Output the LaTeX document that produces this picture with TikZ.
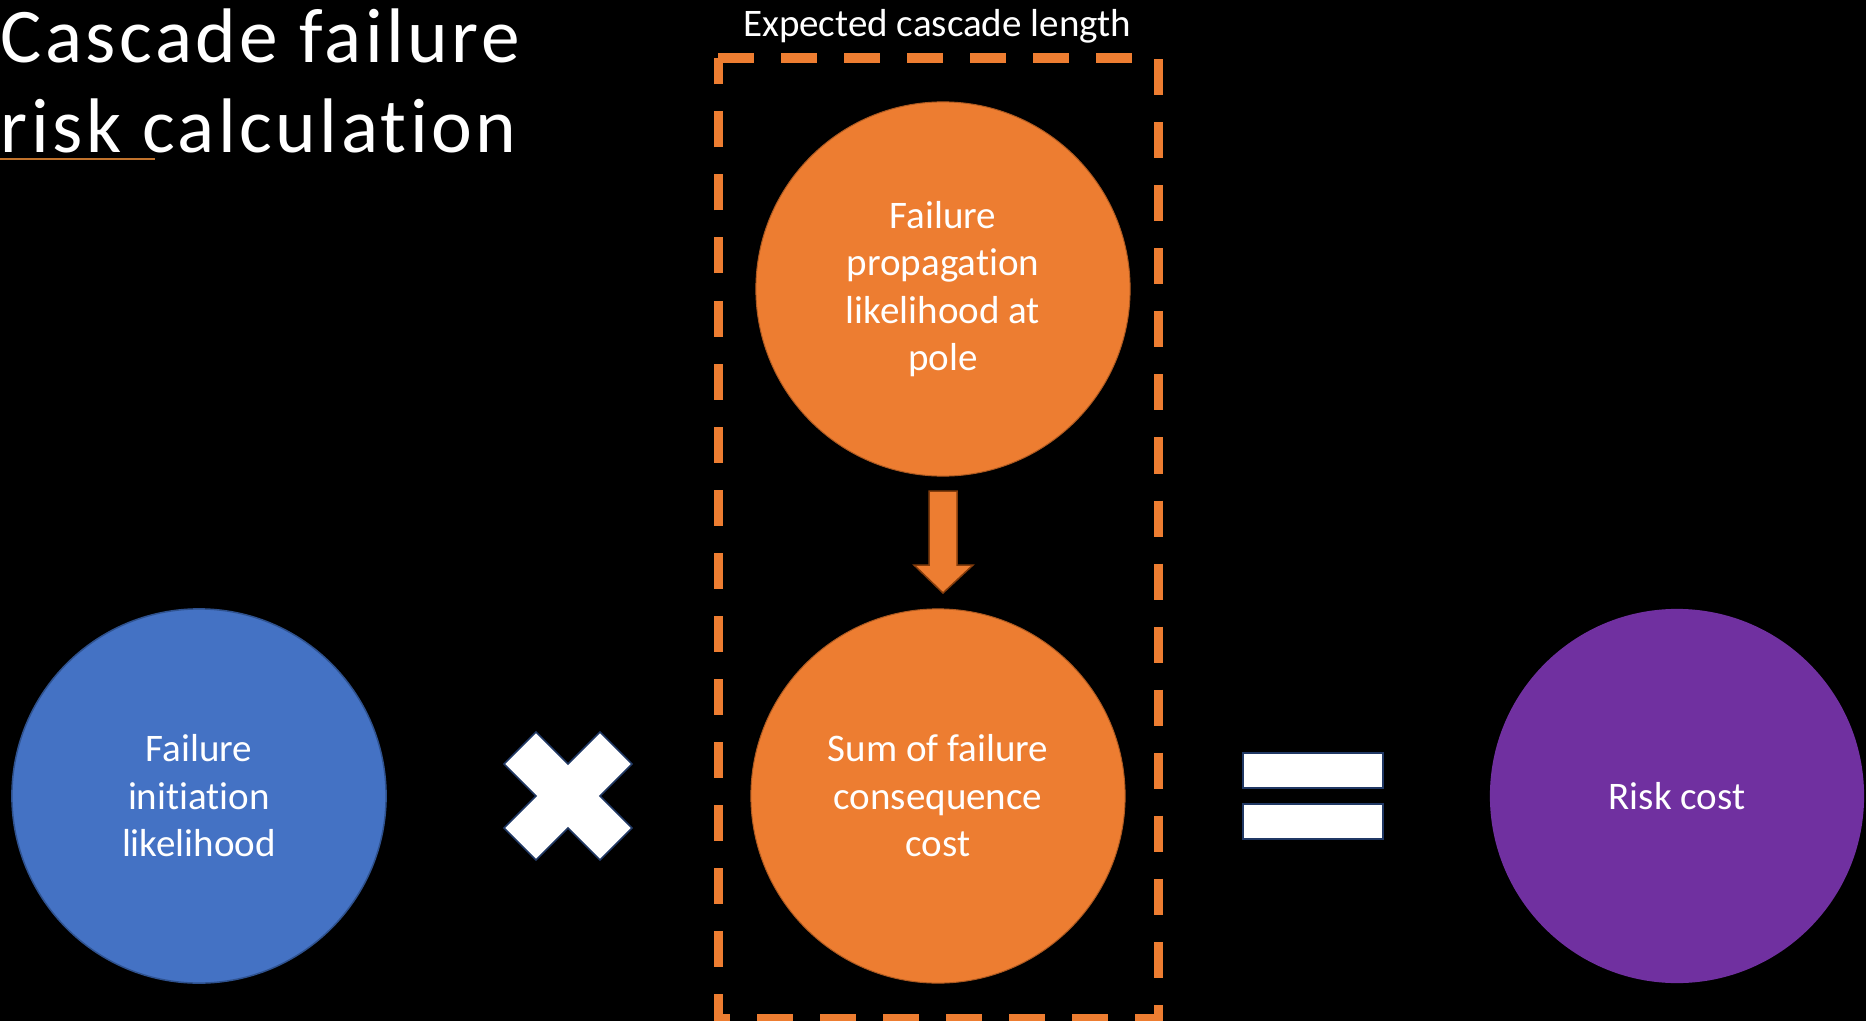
\documentclass[tikz,border=0pt]{standalone}
\usepackage{fontspec}
\setmainfont{Carlito}[Ligatures=NoCommon]
\newfontfamily\titlefont[LetterSpace=4.5,Ligatures=NoCommon]{Carlito}
\definecolor{pblue}{HTML}{4472C4}
\definecolor{pblueline}{HTML}{2F528F}
\definecolor{porange}{HTML}{ED7D31}
\definecolor{porangeline}{HTML}{AE5A21}
\definecolor{ppurple}{HTML}{7030A0}
\definecolor{pnavy}{HTML}{203864}
\definecolor{pbrown}{HTML}{843C0C}
\definecolor{punder}{HTML}{C0722C}
\begin{document}
\begin{tikzpicture}[x=0.01cm,y=-0.01cm,
  bubble/.style={circle, minimum size=3.74cm, inner sep=0pt, text=white, align=center,
    font=\fontsize{11.1}{13.5}\selectfont},
  sign/.style={fill=white, draw=pnavy, line width=0.015cm},
  titletext/.style={anchor=base west, inner sep=0pt, text=white, font=\titlefont\fontsize{22}{26}\selectfont}]
  \fill[black] (0,0) rectangle (1866,1021);
  \useasboundingbox (0,0) rectangle (1866,1021);

  % title
  \node[titletext] (t1) at (0,62) {Cascade failure};
  \node[titletext] (t2) at (0,152) {risk calculation};
  \draw[punder, line width=0.015cm] (0,159) -- (155,159);

  % dashed group box
  \draw[porange, line width=0.09cm, dash pattern=on 0.36cm off 0.27cm]
    (718,58) -- (1158,58) -- (1158,1018) -- (718,1018) -- cycle;
  \node[text=white, anchor=base, inner sep=0pt, font=\fontsize{11.1}{13.5}\selectfont] (lbl) at (937,36) {Expected cascade length};

  % circles
  \node[bubble, fill=pblue, draw=pblueline, line width=0.015cm] (init) at (199,796) {Failure\\initiation\\likelihood};
  \node[bubble, fill=porange, draw=porangeline, line width=0.01cm] (prop) at (943,289) {Failure\\propagation\\likelihood at\\pole};
  \node[bubble, fill=porange, draw=porangeline, line width=0.01cm] (cons) at (938,796) {Sum of failure\\consequence\\cost};
  \node[bubble, fill=ppurple] (risk) at (1677,796) {Risk cost};

  % block arrow
  \filldraw[fill=porange, draw=pbrown, line width=0.015cm]
    (929,491) -- (957,491) -- (957,565) -- (973,565) -- (943,593) -- (914,565) -- (929,565) -- cycle;

  % multiply sign
  \filldraw[sign] (568,796) ++(0,-32) -- ++(32,-32) -- ++(32,32) -- ++(-32,32) -- ++(32,32)
     -- ++(-32,32) -- ++(-32,-32) -- ++(-32,32) -- ++(-32,-32) -- ++(32,-32) -- ++(-32,-32)
     -- ++(32,-32) -- cycle;

  % equals sign
  \filldraw[sign] (1243,753) rectangle (1383,788);
  \filldraw[sign] (1243,804) rectangle (1383,839);
\end{tikzpicture}
\end{document}
